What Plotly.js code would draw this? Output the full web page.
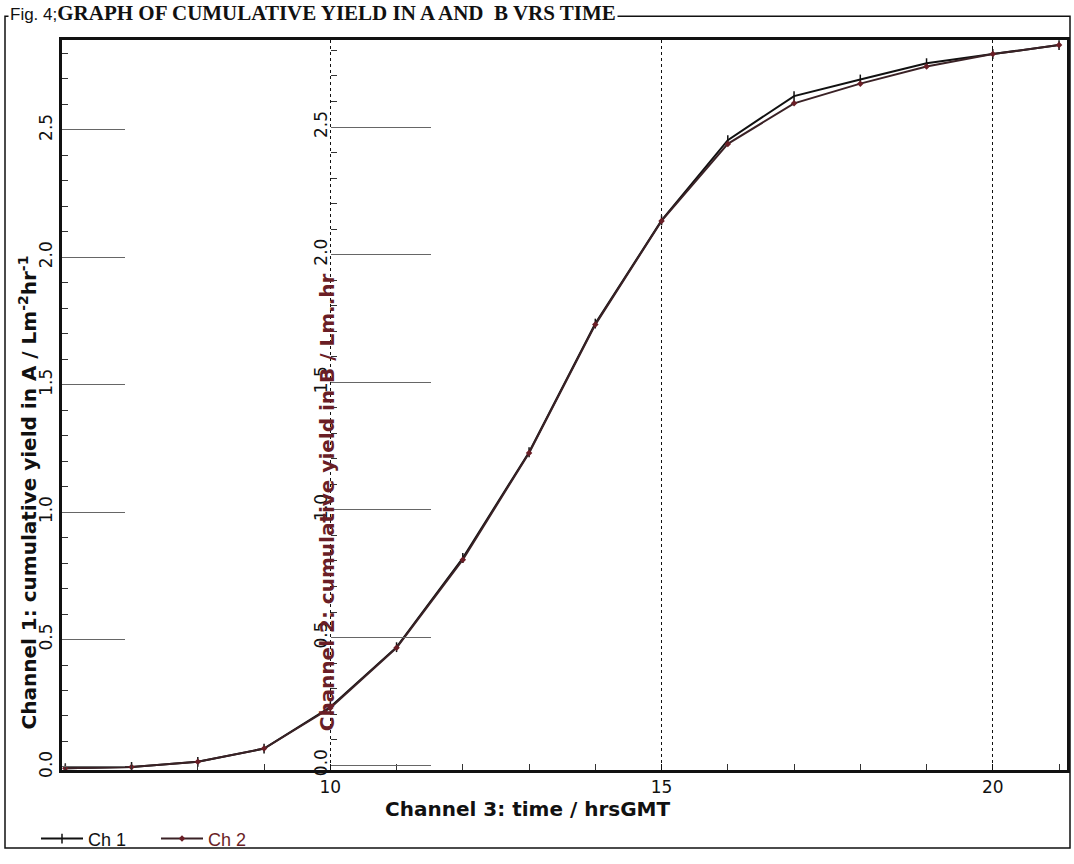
<!DOCTYPE html>
<html>
<head>
<meta charset="utf-8">
<script src="https://cdn.plot.ly/plotly-3.0.1.min.js"></script>
<style>html,body{margin:0;padding:0;background:#fff;}#chart{width:1074px;height:864px;}</style>
</head>
<body>
<div id="chart"></div>
<script>
// Time (hrs GMT)
const hours = [6, 7, 8, 9, 10, 11, 12, 13, 14, 15, 16, 17, 18, 19, 20, 21];
// Channel 1: cumulative yield in A
const ch1 = [-0.005, 0.0, 0.02, 0.072, 0.235, 0.47, 0.82, 1.235, 1.74, 2.145, 2.46, 2.633, 2.698, 2.762, 2.798, 2.833];
// Channel 2: cumulative yield in B
const ch2 = [-0.012, -0.007, 0.013, 0.065, 0.224, 0.46, 0.805, 1.223, 1.726, 2.132, 2.434, 2.593, 2.67, 2.737, 2.786, 2.821];
const xTicks = [10, 15, 20];
const yTicks = [0, 0.5, 1, 1.5, 2, 2.5];
const yTickText = ['0.0', '0.5', '1.0', '1.5', '2.0', '2.5'];

const W = 1074, H = 864;
const L = 62, R = 7, T = 40, B = 85;
const pw = W - L - R, ph = H - T - B;
const px = v => (v - L) / pw;
const py = v => (H - B - v) / ph;
const red = '#6a1e26';
const sans = 'DejaVu Sans, Arial, sans-serif';

const traces = [
  {x: hours, y: ch1, name: 'Ch 1', mode: 'lines+markers', yaxis: 'y',
   line: {color: '#111', width: 2}, marker: {symbol: 'line-ns-open', size: 7, color: '#111', line: {width: 1.5, color: '#111'}}},
  {x: hours, y: ch2, name: '<span style="color:' + red + '">Ch 2</span>', mode: 'lines+markers', yaxis: 'y2',
   line: {color: '#3a2226', width: 2}, marker: {symbol: 'diamond', size: 5, color: red}}
];

const tickFont = {family: sans, size: 17, color: '#111'};

const layout = {
  width: W, height: H,
  margin: {l: L, r: R, t: T, b: B},
  paper_bgcolor: '#fff', plot_bgcolor: '#fff',
  showlegend: true,
  legend: {orientation: 'h', x: px(36), y: py(830), xanchor: 'left', yanchor: 'top',
           font: {family: 'Arial, Liberation Sans, sans-serif', size: 18, color: '#111'},
           bgcolor: 'rgba(0,0,0,0)', itemwidth: 42, entrywidth: 63, entrywidthmode: 'pixels', tracegroupgap: 0},
  xaxis: {range: [5.95, 21.12], tickvals: xTicks, ticktext: xTicks.map(String),
          showgrid: true, gridcolor: '#111', griddash: 'dot', gridwidth: 1.2,
          ticks: 'inside', ticklen: 6, tickcolor: '#111',
          minor: {dtick: 1, ticks: 'inside', ticklen: 6, tickcolor: '#333', showgrid: false},
          showline: true, linecolor: '#111', linewidth: 3, mirror: true,
          zeroline: false, tickfont: tickFont},
  yaxis: {range: [-0.012, 2.853], tickvals: yTicks, ticktext: yTickText, tickangle: -90,
          showgrid: false, zeroline: false,
          ticks: 'inside', ticklen: 63, tickcolor: '#666', tickwidth: 1,
          minor: {dtick: 0.1, ticks: 'inside', ticklen: 6, tickcolor: '#333'},
          showline: true, linecolor: '#111', linewidth: 3, mirror: true,
          tickfont: tickFont},
  yaxis2: {range: [-0.019, 2.841], overlaying: 'y', anchor: 'free', side: 'left',
           position: (10 - 5.95) / (21.12 - 5.95),
           tickvals: yTicks, ticktext: yTickText, tickangle: -90,
           showgrid: false, zeroline: false, showline: false,
           ticks: 'inside', ticklen: 100, tickcolor: '#666', tickwidth: 1,
           minor: {dtick: 0.1, ticks: 'inside', ticklen: 6, tickcolor: '#333'},
           tickfont: tickFont},
  annotations: [
    {xref: 'paper', yref: 'paper', x: px(8), y: py(13), xanchor: 'left', yanchor: 'middle',
     showarrow: false, bgcolor: '#fff',
     text: '<span style="font-family:Arial, Liberation Sans, sans-serif;font-weight:normal;font-size:17px">Fig. 4;</span>GRAPH OF CUMULATIVE YIELD IN A AND  B VRS TIME',
     font: {family: 'Liberation Serif, Times New Roman, serif', size: 21, color: '#111', weight: 'bold'}},
    {xref: 'paper', yref: 'paper', x: px(528), y: py(818), xanchor: 'center', yanchor: 'middle',
     showarrow: false, text: 'Channel 3: time / hrsGMT',
     font: {family: sans, size: 20, color: '#111', weight: 'bold'}},
    {xref: 'paper', yref: 'paper', x: px(28), y: py(498), xanchor: 'center', yanchor: 'middle',
     showarrow: false, textangle: -90,
     text: 'Channel 1: cumulative yield in A / Lm<sup>-2</sup>hr<sup>-1</sup>',
     font: {family: sans, size: 20, color: '#111', weight: 'bold'}},
    {xref: 'paper', yref: 'paper', x: px(327), y: py(508), xanchor: 'center', yanchor: 'middle',
     showarrow: false, textangle: -90,
     text: 'Channel 2: cumulative yield in B / Lm..hr',
     font: {family: sans, size: 20, color: red, weight: 'bold'}}
  ],
  shapes: [
    {type: 'rect', xref: 'paper', yref: 'paper', x0: px(5), x1: px(1070), y0: py(858), y1: py(16),
     line: {color: '#111', width: 1.5}, fillcolor: 'rgba(0,0,0,0)', layer: 'below'}
  ]
};

Plotly.newPlot('chart', traces, layout, {displayModeBar: false, staticPlot: true});
</script>
</body>
</html>
